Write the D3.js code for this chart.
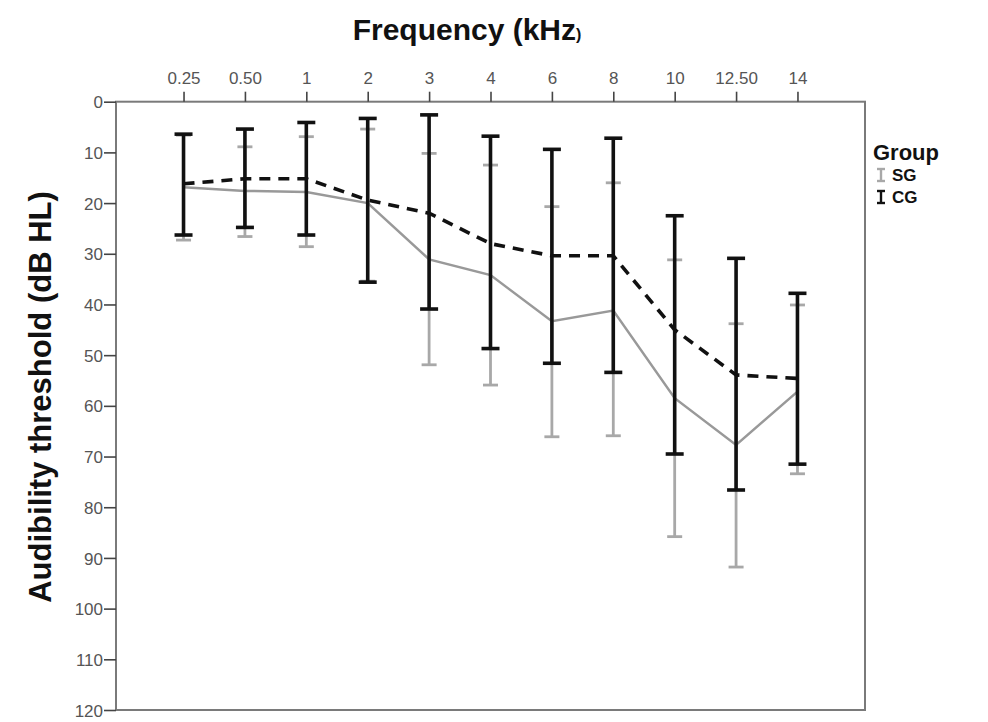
<!DOCTYPE html>
<html>
<head>
<meta charset="utf-8">
<script src="https://cdn.jsdelivr.net/npm/d3@7"></script>
<style>
  body { margin: 0; background: #fff; }
  svg { display: block; font-family: "Liberation Sans", Arial, sans-serif; }
  .tick text { fill: #555; font-size: 17px; font-family: "Liberation Sans Narrow", "Arial Narrow", "Liberation Sans", sans-serif; }
  .tick line { stroke: #444; stroke-width: 1.6; }
  .domain { display: none; }
</style>
</head>
<body>
<div id="wrapper"></div>
<script>
// 1. Data (dB HL)

const frequencies = ["0.25", "0.50", "1", "2", "3", "4", "6", "8", "10", "12.50", "14"]
const yTicks = [0, 10, 20, 30, 40, 50, 60, 70, 80, 90, 100, 110, 120]

const sgMean = [16.9, 17.6, 17.8, 20.0, 31.1, 34.2, 43.3, 41.2, 58.5, 67.7, 57.2]
const sgLow  = [6.6, 8.9, 6.9, 5.4, 10.2, 12.5, 20.7, 16.0, 31.2, 43.8, 40.1]
const sgHigh = [27.3, 26.6, 28.6, 35.4, 51.9, 55.9, 66.1, 65.9, 85.8, 91.8, 73.4]

const cgMean = [16.2, 15.2, 15.2, 19.4, 22.0, 28.0, 30.4, 30.4, 45.0, 53.9, 54.6]
const cgLow  = [6.4, 5.4, 4.1, 3.3, 2.6, 6.8, 9.4, 7.2, 22.5, 30.9, 37.8]
const cgHigh = [26.3, 24.8, 26.3, 35.6, 40.9, 48.7, 51.6, 53.4, 69.5, 76.6, 71.5]

const groups = [
  { name: "SG", mean: sgMean, low: sgLow, high: sgHigh, color: "#999", barColor: "#a8a8a8", lineWidth: 2.5, barWidth: 2.8, cap: 15, dash: null },
  { name: "CG", mean: cgMean, low: cgLow, high: cgHigh, color: "#111", barColor: "#111", lineWidth: 3.6, barWidth: 3.6, cap: 18, dash: "11,8" },
]

// 2. Dimensions

const dimensions = {
  width: 988,
  height: 722,
  margin: { top: 101.7, right: 123, bottom: 12, left: 116 },
}
dimensions.boundedWidth = dimensions.width - dimensions.margin.left - dimensions.margin.right
dimensions.boundedHeight = dimensions.height - dimensions.margin.top - dimensions.margin.bottom

// 3. Canvas

const wrapper = d3.select("#wrapper")
  .append("svg")
    .attr("width", dimensions.width)
    .attr("height", dimensions.height)

const bounds = wrapper.append("g")
    .attr("transform", `translate(${dimensions.margin.left}, ${dimensions.margin.top})`)

// 4. Scales

const xScale = d3.scalePoint()
  .domain(frequencies)
  .range([0, dimensions.boundedWidth])
  .padding(1.1)

const yScale = d3.scaleLinear()
  .domain([0, 120])
  .range([0, dimensions.boundedHeight])

// 5. Peripherals

bounds.append("rect")
    .attr("width", dimensions.boundedWidth)
    .attr("height", dimensions.boundedHeight)
    .attr("fill", "none")
    .attr("stroke", "#7a7a7a")
    .attr("stroke-width", 2)

const xAxis = bounds.append("g")
    .call(d3.axisTop(xScale).tickSize(10).tickPadding(8))
xAxis.selectAll(".tick text").attr("dy", "0")

const yAxis = bounds.append("g")
    .call(d3.axisLeft(yScale).tickValues(yTicks).tickSize(12).tickPadding(1))
yAxis.selectAll(".tick text").attr("dy", "0.36em")

wrapper.append("text")
    .attr("x", 467)
    .attr("y", 40)
    .attr("text-anchor", "middle")
    .style("font-size", "30px")
    .style("font-weight", "bold")
    .style("fill", "#111")
    .text("Frequency (kHz")
  .append("tspan")
    .style("font-size", "16px")
    .text(")")

wrapper.append("text")
    .attr("transform", `translate(51, 397) rotate(-90)`)
    .attr("text-anchor", "middle")
    .style("font-size", "31px")
    .style("font-weight", "bold")
    .style("fill", "#111")
    .text("Audibility threshold (dB HL)")

// 6. Data

groups.forEach(group => {
  const g = bounds.append("g")

  const lineGenerator = d3.line()
    .x((d, i) => xScale(frequencies[i]))
    .y(d => yScale(d))

  g.append("path")
      .datum(group.mean)
      .attr("d", lineGenerator)
      .attr("fill", "none")
      .attr("stroke", group.color)
      .attr("stroke-width", group.lineWidth)
      .attr("stroke-dasharray", group.dash)

  const bars = g.selectAll(".bar")
    .data(frequencies)
    .join("g")
      .attr("transform", d => `translate(${xScale(d)}, 0)`)

  bars.append("line")
      .attr("y1", (d, i) => yScale(group.low[i]))
      .attr("y2", (d, i) => yScale(group.high[i]))
      .attr("stroke", group.barColor)
      .attr("stroke-width", group.barWidth)

  ;["low", "high"].forEach(key => {
    bars.append("line")
        .attr("x1", -group.cap / 2)
        .attr("x2", group.cap / 2)
        .attr("y1", (d, i) => yScale(group[key][i]))
        .attr("y2", (d, i) => yScale(group[key][i]))
        .attr("stroke", group.barColor)
        .attr("stroke-width", group.barWidth)
  })
})

// 7. Legend

const legend = wrapper.append("g")
    .attr("transform", "translate(873, 0)")

legend.append("text")
    .attr("x", 0)
    .attr("y", 160)
    .style("font-size", "22px")
    .style("font-weight", "bold")
    .style("fill", "#111")
    .text("Group")

groups.forEach((group, i) => {
  const y = 175 + i * 22
  const item = legend.append("g").attr("transform", `translate(8, ${y})`)
  item.append("line")
      .attr("y1", -6).attr("y2", 6)
      .attr("stroke", group.barColor).attr("stroke-width", 2.4)
  ;[-6, 6].forEach(dy => item.append("line")
      .attr("x1", -4).attr("x2", 4)
      .attr("y1", dy).attr("y2", dy)
      .attr("stroke", group.barColor).attr("stroke-width", 2.4))
  item.append("text")
      .attr("x", 11)
      .attr("dy", "0.36em")
      .style("font-size", "17px")
      .style("font-weight", "bold")
      .style("fill", "#111")
      .text(group.name)
})
</script>
</body>
</html>
